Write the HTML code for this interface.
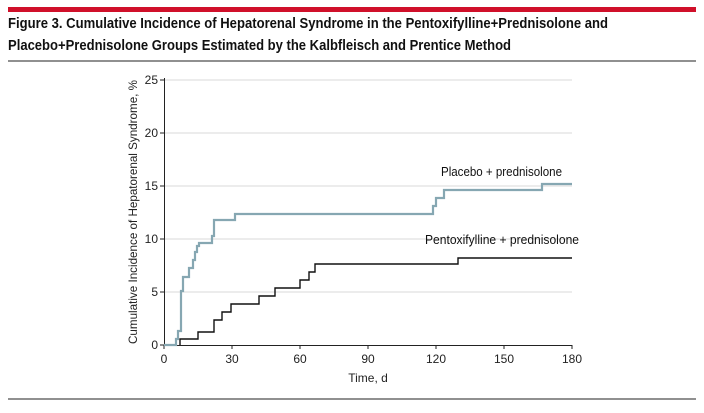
<!DOCTYPE html>
<html><head><meta charset="utf-8"><style>
body{margin:0;background:#fff;width:704px;height:408px;overflow:hidden;font-family:"Liberation Sans",sans-serif}
</style></head><body>
<svg width="704" height="408" xmlns="http://www.w3.org/2000/svg" font-family="Liberation Sans, sans-serif">
<rect x="8" y="7" width="688" height="5" fill="#d0102a"/>
<text x="8" y="28" font-size="14.5" font-weight="bold" fill="#111" textLength="600" lengthAdjust="spacingAndGlyphs">Figure 3. Cumulative Incidence of Hepatorenal Syndrome in the Pentoxifylline+Prednisolone and</text>
<text x="8" y="50" font-size="14.5" font-weight="bold" fill="#111" textLength="503" lengthAdjust="spacingAndGlyphs">Placebo+Prednisolone Groups Estimated by the Kalbfleisch and Prentice Method</text>
<line x1="8" y1="61" x2="696" y2="61" stroke="#222" stroke-width="1"/>
<line x1="8" y1="399" x2="696" y2="399" stroke="#222" stroke-width="1"/>
<g stroke="#d8d8d8" stroke-width="1">
<line x1="164" y1="80" x2="572" y2="80"/><line x1="164" y1="133" x2="572" y2="133"/>
<line x1="164" y1="186" x2="572" y2="186"/><line x1="164" y1="239" x2="572" y2="239"/>
<line x1="164" y1="292" x2="572" y2="292"/>
</g>
<g stroke="#222" stroke-width="1">
<line x1="164.5" y1="78" x2="164.5" y2="345"/><line x1="164" y1="345.5" x2="572" y2="345.5"/>
<line x1="160" y1="80" x2="164" y2="80"/><line x1="160" y1="133" x2="164" y2="133"/><line x1="160" y1="186" x2="164" y2="186"/><line x1="160" y1="239" x2="164" y2="239"/><line x1="160" y1="292" x2="164" y2="292"/><line x1="160" y1="345" x2="164" y2="345"/>
<line x1="164" y1="345" x2="164" y2="349"/><line x1="232" y1="345" x2="232" y2="349"/><line x1="300" y1="345" x2="300" y2="349"/><line x1="368" y1="345" x2="368" y2="349"/><line x1="436" y1="345" x2="436" y2="349"/><line x1="504" y1="345" x2="504" y2="349"/><line x1="572" y1="345" x2="572" y2="349"/>
</g>
<g font-size="12" fill="#222" text-anchor="end">
<text x="158" y="84">25</text><text x="158" y="137">20</text><text x="158" y="190">15</text><text x="158" y="243">10</text><text x="158" y="296">5</text><text x="158" y="349">0</text>
</g>
<g font-size="12" fill="#222" text-anchor="middle">
<text x="164" y="363">0</text><text x="232" y="363">30</text><text x="300" y="363">60</text><text x="368" y="363">90</text><text x="436" y="363">120</text><text x="504" y="363">150</text><text x="572" y="363">180</text>
<text x="368" y="382">Time, d</text>
<text transform="translate(137,212) rotate(-90)" font-size="12" textLength="264" lengthAdjust="spacingAndGlyphs">Cumulative Incidence of Hepatorenal Syndrome, %</text>
</g>
<polyline fill="none" stroke="#86a7b2" stroke-width="2.2" points="164,345 176,345 176,339 178,339 178,331 181,331 181,291 183,291 183,277 189,277 189,268 193,268 193,260 195,260 195,252 197,252 197,246 199,246 199,243 212,243 212,236 214,236 214,220 235,220 235,214 433,214 433,206 436,206 436,198 444,198 444,190 542,190 542,184 572,184"/>
<polyline fill="none" stroke="#111" stroke-width="1.4" points="180,345 180,339 198,339 198,332 214,332 214,320 222,320 222,312 231,312 231,304 259,304 259,296 275,296 275,288 300,288 300,280 309,280 309,272 315,272 315,264 458,264 458,258 572,258"/>
<text x="441" y="176" font-size="12.5" fill="#111" textLength="121" lengthAdjust="spacingAndGlyphs">Placebo + prednisolone</text>
<text x="425" y="244" font-size="12.5" fill="#111" textLength="154" lengthAdjust="spacingAndGlyphs">Pentoxifylline + prednisolone</text>
</svg>
</body></html>
